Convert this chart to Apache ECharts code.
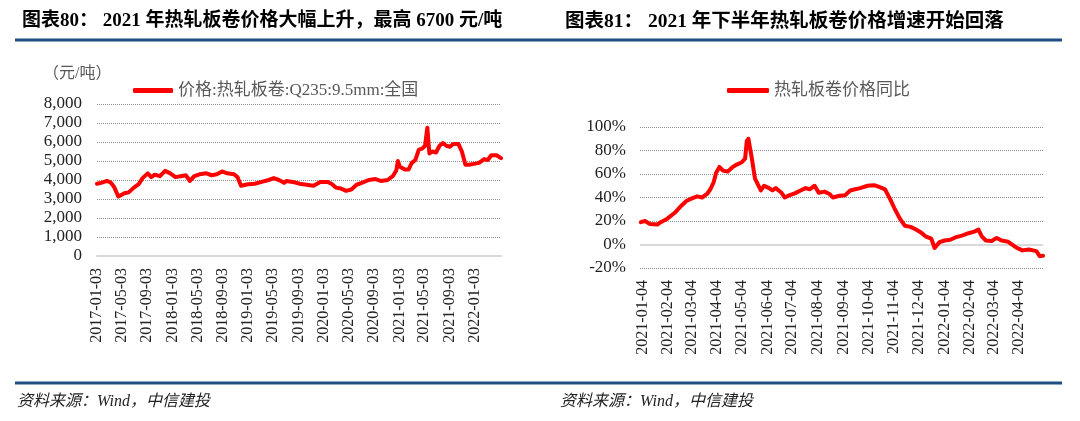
<!DOCTYPE html>
<html>
<head>
<meta charset="utf-8">
<script src="https://cdn.jsdelivr.net/npm/echarts@6/dist/echarts.min.js"></script>
<style>
html,body{margin:0;padding:0;background:#fff;}
#c{width:1080px;height:421px;}
</style>
</head>
<body>
<div id="c"></div>
<script>
// ---------- Left chart: 热轧板卷价格 (元/吨) ----------
const leftDates = ['2017-01-03','2017-01-23','2017-02-20','2017-03-09','2017-03-26','2017-04-16','2017-04-28','2017-05-15','2017-06-05','2017-06-30',
 '2017-07-25','2017-08-11','2017-09-05','2017-09-22','2017-10-09','2017-11-03','2017-11-28','2017-12-23','2018-01-17','2018-02-11',
 '2018-03-08','2018-03-28','2018-04-18','2018-05-13','2018-06-16','2018-07-11','2018-08-05','2018-08-30','2018-09-24','2018-10-27',
 '2018-11-13','2018-11-30','2019-01-02','2019-02-04','2019-03-10','2019-04-12','2019-05-07','2019-06-01','2019-06-26','2019-07-08',
 '2019-08-07','2019-09-09','2019-10-12','2019-11-15','2019-12-18','2020-01-21','2020-02-10','2020-03-02','2020-03-27','2020-04-21',
 '2020-05-16','2020-06-10','2020-07-05','2020-08-08','2020-09-10','2020-10-05','2020-11-07','2020-12-02','2020-12-19','2020-12-27',
 '2021-01-05','2021-01-30','2021-02-16','2021-03-04','2021-03-21','2021-04-07','2021-04-23','2021-05-07','2021-05-18','2021-05-28',
 '2021-06-12','2021-06-29','2021-07-16','2021-08-01','2021-08-18','2021-09-04','2021-09-20','2021-10-15','2021-11-01','2021-11-18',
 '2021-12-04','2021-12-29','2022-01-23','2022-02-17','2022-03-06','2022-03-23','2022-04-17','2022-05-09'];
const leftValues = [3800,3850,3950,3880,3650,3130,3200,3300,3350,3600,
 3800,4100,4350,4150,4280,4200,4480,4350,4150,4200,
 4250,3950,4200,4300,4350,4250,4300,4450,4350,4300,
 4150,3700,3780,3800,3900,4000,4100,4000,3850,3950,
 3900,3800,3750,3700,3900,3900,3800,3600,3550,3430,
 3500,3750,3850,4000,4050,3950,4000,4200,4500,5000,
 4700,4550,4550,4900,5050,5600,5650,5800,6750,5400,
 5500,5450,5800,5950,5800,5750,5900,5900,5500,4800,
 4800,4850,4900,5100,5050,5300,5300,5150];
const leftTicks = ['2017-01-03','2017-05-03','2017-09-03','2018-01-03','2018-05-03','2018-09-03','2019-01-03','2019-05-03',
 '2019-09-03','2020-01-03','2020-05-03','2020-09-03','2021-01-03','2021-05-03','2021-09-03','2022-01-03'];
const leftYTicks = [0,1000,2000,3000,4000,5000,6000,7000,8000];

// ---------- Right chart: 热轧板卷价格同比 (%) ----------
const rightDates = ['2021-01-02','2021-01-07','2021-01-13','2021-01-22','2021-01-26','2021-02-03','2021-02-12','2021-02-20','2021-02-26','2021-03-04',
 '2021-03-11','2021-03-17','2021-03-23','2021-03-27','2021-03-31','2021-04-03','2021-04-07','2021-04-11','2021-04-17','2021-04-23',
 '2021-04-28','2021-05-04','2021-05-08','2021-05-10','2021-05-12','2021-05-16','2021-05-20','2021-05-27','2021-05-31','2021-06-06',
 '2021-06-10','2021-06-14','2021-06-21','2021-06-25','2021-07-01','2021-07-07','2021-07-14','2021-07-20','2021-07-25','2021-07-31',
 '2021-08-05','2021-08-12','2021-08-18','2021-08-22','2021-08-30','2021-09-06','2021-09-12','2021-09-18','2021-09-24','2021-10-03',
 '2021-10-11','2021-10-17','2021-10-24','2021-10-30','2021-11-05','2021-11-11','2021-11-17','2021-11-24','2021-11-30','2021-12-06',
 '2021-12-12','2021-12-19','2021-12-23','2021-12-29','2022-01-04','2022-01-11','2022-01-17','2022-01-25','2022-02-02','2022-02-09',
 '2022-02-14','2022-02-18','2022-02-23','2022-03-02','2022-03-08','2022-03-14','2022-03-22','2022-03-31','2022-04-08','2022-04-16',
 '2022-04-25','2022-04-29','2022-05-03'];
const rightValues = [19,20,17.5,17,19,22,27,33,37,39,
 41,40,43,47,53,61,66,63,62,66,
 68,70,73,88,90,74,56,46,50,48,
 46,48,44,40,42,43.5,46,48,47,50,
 44,45,43,40,41.5,42,46,47,48,50,
 50.5,49,47,39,30,22,16,15,13,10.5,
 7,5,-3,2,3.4,4,6,7.6,9.6,11,
 12.7,7,3.4,3,5.6,3.4,2.3,-2.3,-5,-4.2,
 -5.6,-9.9,-9.6];
const rightTicks = ['2021-01-04','2021-02-04','2021-03-04','2021-04-04','2021-05-04','2021-06-04','2021-07-04','2021-08-04',
 '2021-09-04','2021-10-04','2021-11-04','2021-12-04','2022-01-04','2022-02-04','2022-03-04','2022-04-04'];
const rightYTicks = [-20,0,20,40,60,80,100];

// ---------- helpers ----------
const DAY = 86400000;
function ts(s){ const p = s.split('-').map(Number); return Date.UTC(p[0], p[1]-1, p[2]) / DAY; }
function fmtDate(v){ const d = new Date(Math.round(v) * DAY); const p = n => (n<10?'0':'')+n;
  return d.getUTCFullYear()+'-'+p(d.getUTCMonth()+1)+'-'+p(d.getUTCDate()); }
function thousands(v){ return String(v).replace(/\B(?=(\d{3})+(?!\d))/g, ','); }

const SERIF = "'Liberation Serif','Noto Sans CJK SC',serif";
const RED = '#FF0000';
const GRIDC = '#8c8c8c';

const chart = echarts.init(document.getElementById('c'), null, {renderer:'canvas'});

function xAxisCfg(gridIndex, minD, maxD, ticks){
  return {
    type:'value', gridIndex, min: ts(minD), max: ts(maxD), scale:true,
    axisLine:{show: gridIndex===0, onZero:false, lineStyle:{color:'#D9D9D9', width:2}},
    axisTick:{show:false},
    splitLine:{show:false},
    axisLabel:{
      customValues: ticks.map(ts), rotate:90, margin:12,
      fontFamily:SERIF, fontSize:16, color:'#222',
      formatter: v => fmtDate(v), hideOverlap:false
    }
  };
}

chart.setOption({
  animation:false,
  backgroundColor:'#fff',
  title:[
    {text:'图表80： 2021 年热轧板卷价格大幅上升，最高 6700 元/吨', left:17, top:7,
     textStyle:{fontFamily:SERIF, fontWeight:'bold', fontSize:19, color:'#000'}},
    {text:'图表81： 2021 年下半年热轧板卷价格增速开始回落', left:560, top:7,
     textStyle:{fontFamily:SERIF, fontWeight:'bold', fontSize:19.5, color:'#000'}}
  ],
  graphic:[
    {type:'rect', shape:{x:15, y:38.5, width:1047, height:3}, style:{fill:'#1F4E82'}},
    {type:'rect', shape:{x:15, y:381.5, width:1047, height:3}, style:{fill:'#1F4E82'}},
    {type:'text', left:43, top:66, style:{text:'（元/吨）', fontFamily:SERIF, fontSize:16, fill:'#595959'}},
    {type:'text', left:17, top:394, style:{text:'资料来源：Wind，中信建投', fontFamily:SERIF, fontSize:16, fontStyle:'italic', fill:'#222'}},
    {type:'text', left:560, top:394, style:{text:'资料来源：Wind，中信建投', fontFamily:SERIF, fontSize:16, fontStyle:'italic', fill:'#222'}}
  ],
  legend:[
    {left:128, top:77, data:['价格:热轧板卷:Q235:9.5mm:全国'], icon:'roundRect', itemWidth:40, itemHeight:5,
     textStyle:{fontFamily:SERIF, fontSize:17, color:'#595959'}},
    {left:722, top:77, data:['热轧板卷价格同比'], icon:'roundRect', itemWidth:42, itemHeight:5,
     textStyle:{fontFamily:SERIF, fontSize:17, color:'#595959'}}
  ],
  grid:[
    {left:97, right:579, top:104, bottom:165},
    {left:640, right:37, top:127, bottom:153}
  ],
  xAxis:[
    xAxisCfg(0, '2017-01-03', '2022-05-09', leftTicks),
    xAxisCfg(1, '2021-01-01', '2022-05-03', rightTicks)
  ],
  yAxis:[
    {type:'value', gridIndex:0, min:leftYTicks[0], max:leftYTicks[leftYTicks.length-1], interval:1000,
     axisLine:{show:false}, axisTick:{show:false},
     axisLabel:{fontFamily:SERIF, fontSize:17, color:'#222', margin:15, formatter:v=>thousands(v)},
     splitLine:{show:true, showMinLine:false, lineStyle:{color:GRIDC, type:[1,1], width:1}}},
    {type:'value', gridIndex:1, min:rightYTicks[0], max:rightYTicks[rightYTicks.length-1], interval:20,
     axisLine:{show:false}, axisTick:{show:false},
     axisLabel:{fontFamily:SERIF, fontSize:17, color:'#222', margin:14, formatter:'{value}%'},
     splitLine:{show:true, lineStyle:{color:GRIDC, type:[1,1], width:1}}}
  ],
  series:[
    {name:'价格:热轧板卷:Q235:9.5mm:全国', type:'line', xAxisIndex:0, yAxisIndex:0, showSymbol:false,
     lineStyle:{color:RED, width:4, cap:'round', join:'round'}, itemStyle:{color:RED},
     data: leftDates.map((d,i)=>[ts(d), leftValues[i]])},
    {name:'热轧板卷价格同比', type:'line', xAxisIndex:1, yAxisIndex:1, showSymbol:false,
     lineStyle:{color:RED, width:4, cap:'round', join:'round'}, itemStyle:{color:RED},
     markLine:{silent:true, symbol:'none', label:{show:false}, z:1,
       lineStyle:{color:'#D9D9D9', type:'solid', width:2}, data:[{yAxis:0}]},
     data: rightDates.map((d,i)=>[ts(d), rightValues[i]])}
  ]
});
</script>
</body>
</html>
